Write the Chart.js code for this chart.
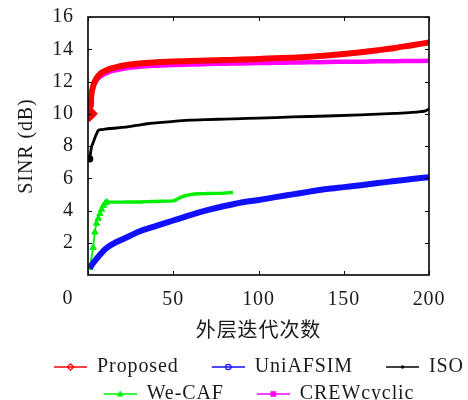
<!DOCTYPE html>
<html>
<head>
<meta charset="utf-8">
<script src="https://cdn.jsdelivr.net/npm/chart.js@4.4.0/dist/chart.umd.min.js"></script>
<style>
  html, body { margin: 0; padding: 0; background: #ffffff; }
  #wrap { width: 468px; height: 400px; }
</style>
</head>
<body>
<div id="wrap"><canvas id="c" width="468" height="400"></canvas></div>
<script>
// SINR versus outer-loop iteration count for five methods
const proposedIter = [1, 2, 3, 4, 5, 6, 7, 8, 10, 12, 15, 20, 25, 30, 40, 50, 60, 70, 80, 90, 100, 110, 120, 130, 140, 150, 160, 170, 180, 190, 200];
const proposedSINR = [10.0, 11.2, 11.7, 12.0, 12.2, 12.35, 12.45, 12.55, 12.65, 12.75, 12.85, 12.98, 13.06, 13.12, 13.19, 13.24, 13.27, 13.3, 13.33, 13.36, 13.4, 13.44, 13.48, 13.54, 13.61, 13.7, 13.81, 13.94, 14.08, 14.25, 14.42];

const uniIter = [1, 3, 5, 7, 10, 15, 20, 25, 30, 40, 50, 60, 70, 80, 90, 100, 110, 120, 130, 140, 150, 160, 170, 180, 190, 200];
const uniSINR = [0.4, 0.75, 1.0, 1.25, 1.6, 1.95, 2.2, 2.45, 2.7, 3.05, 3.38, 3.72, 4.02, 4.28, 4.5, 4.65, 4.83, 5.0, 5.17, 5.33, 5.45, 5.57, 5.7, 5.83, 5.95, 6.07];

const isoIter = [1, 2, 3, 4, 5, 6, 8, 10, 15, 20, 25, 30, 35, 40, 50, 60, 70, 80, 90, 100, 120, 140, 160, 180, 190, 195, 198, 200];
const isoSINR = [7.2, 7.9, 8.2, 8.5, 8.75, 8.97, 9.02, 9.05, 9.1, 9.15, 9.22, 9.3, 9.38, 9.43, 9.53, 9.6, 9.64, 9.67, 9.7, 9.73, 9.8, 9.86, 9.93, 10.02, 10.08, 10.13, 10.18, 10.3];

const wecafIter = [1, 3, 4, 5, 6, 7, 8, 9, 10, 11, 15, 20, 25, 30, 35, 40, 45, 50, 52, 55, 60, 65, 70, 75, 80, 85];
const wecafSINR = [0.45, 1.7, 2.65, 3.2, 3.5, 3.8, 4.07, 4.3, 4.45, 4.52, 4.52, 4.52, 4.53, 4.53, 4.55, 4.56, 4.58, 4.6, 4.68, 4.85, 4.98, 5.04, 5.05, 5.06, 5.08, 5.12];

const crewIter = [1, 2, 3, 4, 5, 6, 7, 8, 10, 12, 15, 20, 25, 30, 40, 50, 60, 70, 80, 90, 100, 110, 120, 130, 140, 150, 160, 170, 180, 190, 200];
const crewSINR = [10.7, 11.3, 11.65, 11.9, 12.05, 12.18, 12.28, 12.36, 12.48, 12.57, 12.67, 12.78, 12.86, 12.92, 12.98, 13.02, 13.05, 13.08, 13.1, 13.12, 13.14, 13.16, 13.18, 13.19, 13.21, 13.22, 13.23, 13.25, 13.26, 13.27, 13.28];

const seriesNames = ['Proposed', 'UniAFSIM', 'ISO', 'We-CAF', 'CREWcyclic'];
const xTicks = [0, 50, 100, 150, 200];
const yTicks = [2, 4, 6, 8, 10, 12, 14, 16];

const SERIF = "'Liberation Serif', 'DejaVu Serif', serif";
const TEXT = '#1a1a1a';
const SPACING = '0.9px';

function pairs(xs, ys) { return xs.map((x, i) => ({ x: x, y: ys[i] })); }

// small legend glyph: a short line with the series marker in its middle
function legendIcon(color, marker) {
  const c = document.createElement('canvas');
  c.width = 59; c.height = 14;
  const g = c.getContext('2d');
  g.strokeStyle = color; g.fillStyle = color; g.lineWidth = 1.6;
  g.beginPath(); g.moveTo(26, 7); g.lineTo(59, 7); g.stroke();
  const cx = 42.5, cy = 7;
  g.beginPath();
  if (marker === 'diamond') {
    g.moveTo(cx, cy - 3.2); g.lineTo(cx + 3.2, cy); g.lineTo(cx, cy + 3.2); g.lineTo(cx - 3.2, cy); g.closePath();
    g.lineWidth = 1.3; g.stroke();
  } else if (marker === 'circle') {
    g.arc(cx, cy, 2.6, 0, Math.PI * 2); g.lineWidth = 1.3; g.stroke();
  } else if (marker === 'dot') {
    g.arc(cx, cy, 1.8, 0, Math.PI * 2); g.fill();
  } else if (marker === 'triangle') {
    g.moveTo(cx, cy - 3.6); g.lineTo(cx + 3.4, cy + 2.6); g.lineTo(cx - 3.4, cy + 2.6); g.closePath(); g.fill();
  } else if (marker === 'square') {
    g.rect(cx - 2.8, cy - 2.8, 5.6, 5.6); g.fill();
  }
  return c;
}

const colors = ['#ff0000', '#1010ff', '#000000', '#00ee00', '#ff00ff'];
const icons = [
  legendIcon(colors[0], 'diamond'),
  legendIcon(colors[1], 'circle'),
  legendIcon(colors[2], 'dot'),
  legendIcon(colors[3], 'triangle'),
  legendIcon(colors[4], 'square')
];

// slightly looser glyph spacing for all chart text
const spacingPlugin = {
  id: 'spacing',
  beforeUpdate(chart) { chart.ctx.letterSpacing = SPACING; },
  beforeDraw(chart) { chart.ctx.letterSpacing = SPACING; }
};

// frame with inward tick marks on all four sides, plus the origin label
const framePlugin = {
  id: 'frame',
  afterDatasetsDraw(chart) {
    const { ctx, chartArea: a, scales } = chart;
    const xs = scales.x, ys = scales.y;
    ctx.save();
    ctx.strokeStyle = '#000';
    ctx.lineWidth = 1.6;
    ctx.strokeRect(a.left, a.top, a.right - a.left, a.bottom - a.top);
    ctx.lineWidth = 1;
    ctx.beginPath();
    xTicks.forEach(v => {
      const px = Math.round(xs.getPixelForValue(v)) + 0.5;
      ctx.moveTo(px, a.bottom); ctx.lineTo(px, a.bottom - 4);
      ctx.moveTo(px, a.top); ctx.lineTo(px, a.top + 4);
    });
    yTicks.forEach(v => {
      const py = Math.round(ys.getPixelForValue(v)) + 0.5;
      ctx.moveTo(a.left, py); ctx.lineTo(a.left + 4, py);
      ctx.moveTo(a.right, py); ctx.lineTo(a.right - 4, py);
    });
    ctx.stroke();
    ctx.fillStyle = TEXT;
    ctx.font = '20px ' + SERIF;
    ctx.textAlign = 'center';
    ctx.textBaseline = 'middle';
    ctx.fillText('0', a.left - 20, a.bottom + 24);
    ctx.restore();
  }
};

const chart = new Chart(document.getElementById('c'), {
  type: 'line',
  data: {
    datasets: [
      {
        label: seriesNames[0], data: pairs(proposedIter, proposedSINR),
        borderColor: colors[0], backgroundColor: colors[0], borderWidth: 6,
        pointStyle: 'rectRot', pointRadius: ctx => ctx.dataIndex === 0 ? 4 : 0,
        cubicInterpolationMode: 'monotone'
      },
      {
        label: seriesNames[1], data: pairs(uniIter, uniSINR),
        borderColor: colors[1], backgroundColor: colors[1], borderWidth: 6,
        pointRadius: 0, cubicInterpolationMode: 'monotone'
      },
      {
        label: seriesNames[2], data: pairs(isoIter, isoSINR),
        borderColor: colors[2], backgroundColor: colors[2], borderWidth: 2.8,
        pointRadius: ctx => ctx.dataIndex === 0 ? 2.2 : 0,
        cubicInterpolationMode: 'monotone'
      },
      {
        label: seriesNames[3], data: pairs(wecafIter, wecafSINR),
        borderColor: colors[3], backgroundColor: colors[3],
        segment: { borderWidth: ctx => ctx.p0DataIndex < 9 ? 1.8 : 3.4 },
        borderWidth: 3.4,
        pointStyle: 'triangle',
        pointRadius: ctx => ctx.dataIndex < 10 ? 3.6 : 0,
        pointBorderWidth: 1,
        cubicInterpolationMode: 'monotone'
      },
      {
        label: seriesNames[4], data: pairs(crewIter, crewSINR),
        borderColor: colors[4], backgroundColor: colors[4], borderWidth: 4.5,
        pointStyle: 'rect', pointRadius: ctx => ctx.dataIndex === 0 ? 3 : 0,
        cubicInterpolationMode: 'monotone'
      }
    ]
  },
  options: {
    responsive: false,
    devicePixelRatio: 1,
    animation: false,
    layout: { padding: { top: 17, right: -12, bottom: -14, left: 12 } },
    scales: {
      x: {
        type: 'linear', min: 0, max: 200,
        afterBuildTicks: s => { s.ticks = xTicks.map(v => ({ value: v })); },
        afterFit: s => { s.height = 75; s.paddingLeft = 0; s.paddingRight = 0; },
        grid: { display: false, drawTicks: false },
        border: { display: false },
        ticks: {
          padding: 13, color: TEXT, font: { family: SERIF, size: 20 },
          maxRotation: 0,
          callback: v => (v === 0 ? '' : String(v))
        },
        title: {
          display: true, text: '外层迭代次数', color: TEXT,
          font: { family: "'Noto Sans CJK SC', sans-serif", size: 20, lineHeight: 1.2 },
          padding: { top: 0, bottom: 9 }
        }
      },
      y: {
        type: 'linear', min: 0, max: 16,
        afterBuildTicks: s => { s.ticks = yTicks.map(v => ({ value: v })); },
        afterFit: s => { s.width = 76; s.paddingTop = 0; s.paddingBottom = 0; },
        grid: { display: false, drawTicks: false },
        border: { display: false },
        ticks: { padding: 14, color: TEXT, font: { family: SERIF, size: 20 } },
        title: {
          display: true, text: 'SINR (dB)', color: TEXT,
          font: { family: SERIF, size: 20, lineHeight: 1.2 },
          padding: { top: 3, bottom: 0 }
        }
      },
      // empty right-hand margin beside the plot
      yRight: {
        type: 'linear', position: 'right', min: 0, max: 16,
        afterFit: s => { s.width = 51; s.paddingTop = 0; s.paddingBottom = 0; },
        grid: { display: false, drawTicks: false },
        border: { display: false },
        ticks: { display: false }
      }
    },
    plugins: {
      tooltip: { enabled: false },
      legend: {
        position: 'bottom',
        labels: {
          usePointStyle: true,
          pointStyleWidth: 59,
          padding: 7,
          color: TEXT,
          font: { family: SERIF, size: 20 },
          generateLabels(ch) {
            const items = Chart.defaults.plugins.legend.labels.generateLabels(ch);
            items.forEach(it => { it.pointStyle = icons[it.datasetIndex]; it.rotation = 0; });
            return items;
          }
        }
      }
    }
  },
  plugins: [spacingPlugin, framePlugin]
});
</script>
</body>
</html>
